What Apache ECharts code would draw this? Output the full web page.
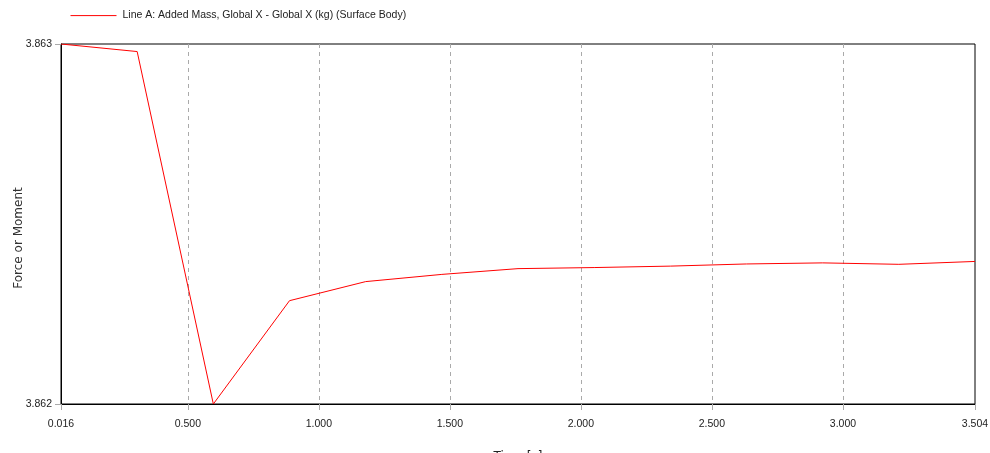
<!DOCTYPE html>
<html>
<head>
<meta charset="utf-8">
<script src="https://cdn.jsdelivr.net/npm/echarts@6/dist/echarts.min.js"></script>
<style>html,body{margin:0;padding:0;background:#fff}#c{width:990px;height:453px}</style>
</head>
<body>
<div id="c"></div>
<script>
var timeValues = [0.016, 0.30667, 0.59733, 0.888, 1.17867, 1.46933, 1.76, 2.05067, 2.34133, 2.632, 2.92267, 3.21333, 3.504];
var massValues = [3.863000, 3.862979, 3.862000, 3.862287, 3.862340, 3.862360, 3.862376, 3.862379, 3.862383, 3.862389, 3.862392, 3.862388, 3.862396];
var xTickValues = [0.016, 0.5, 1.0, 1.5, 2.0, 2.5, 3.0, 3.504];
var yTickValues = [3.862, 3.863];
var seriesName = 'Line A: Added Mass, Global X - Global X (kg) (Surface Body)';
var xName = 'Time [s]';
var yName = 'Force or Moment';

var data = timeValues.map(function (t, i) { return [t, massValues[i]]; });
var chart = echarts.init(document.getElementById('c'), null, {renderer: 'canvas'});
chart.setOption({
  animation: false,
  backgroundColor: '#fff',
  color: ['#ff0000'],
  legend: {
    left: 65, top: 5,
    itemWidth: 46, itemHeight: 14, itemGap: 10,
    itemStyle: {opacity: 0},
    lineStyle: {color: '#ff0000', width: 1},
    textStyle: {fontFamily: 'Liberation Sans', fontSize: 10.5, color: '#222', padding: [0, 0, 0, 1]},
    data: [seriesName]
  },
  grid: {left: 61, right: 15, top: 44, bottom: 49, outerBoundsMode: 'none', containLabel: false, show: true, borderColor: '#000', borderWidth: 1, backgroundColor: 'transparent'},
  xAxis: {
    type: 'value', min: 0.016, max: 3.504,
    name: xName, nameLocation: 'middle', nameGap: 47, nameMoveOverlap: false,
    nameTextStyle: {fontFamily: 'DejaVu Sans', fontSize: 12, color: '#222'},
    axisLine: {lineStyle: {color: '#000', width: 1}},
    axisTick: {show: true, length: 6, lineStyle: {color: '#aaa'}, customValues: xTickValues},
    axisLabel: {customValues: xTickValues, margin: 15, formatter: function (v) { return v.toFixed(3); }, fontFamily: 'Liberation Sans', fontSize: 10.5, color: '#222', showMinLabel: true, showMaxLabel: true},
    splitLine: {show: true, showMinLine: false, showMaxLine: false, lineStyle: {color: '#aaa', type: [4, 4], width: 1}}
  },
  yAxis: {
    type: 'value', min: 3.862, max: 3.863, interval: 0.001,
    name: yName, nameLocation: 'middle', nameGap: 36, nameRotate: 90, nameMoveOverlap: false,
    nameTextStyle: {fontFamily: 'DejaVu Sans', fontSize: 12, color: '#333', padding: [0, 0, 0, -28]},
    axisLine: {show: true, lineStyle: {color: '#000', width: 1}},
    axisTick: {show: true, length: 6, lineStyle: {color: '#aaa'}, customValues: yTickValues},
    axisLabel: {customValues: yTickValues, margin: 9, formatter: function (v) { return v.toFixed(3); }, fontFamily: 'Liberation Sans', fontSize: 10.5, color: '#222'},
    splitLine: {show: false}
  },
  series: [{
    name: seriesName, type: 'line', data: data,
    symbol: 'none', smooth: false,
    lineStyle: {color: '#ff0000', width: 1},
    itemStyle: {color: '#ff0000'}
  }]
});
</script>
</body>
</html>
